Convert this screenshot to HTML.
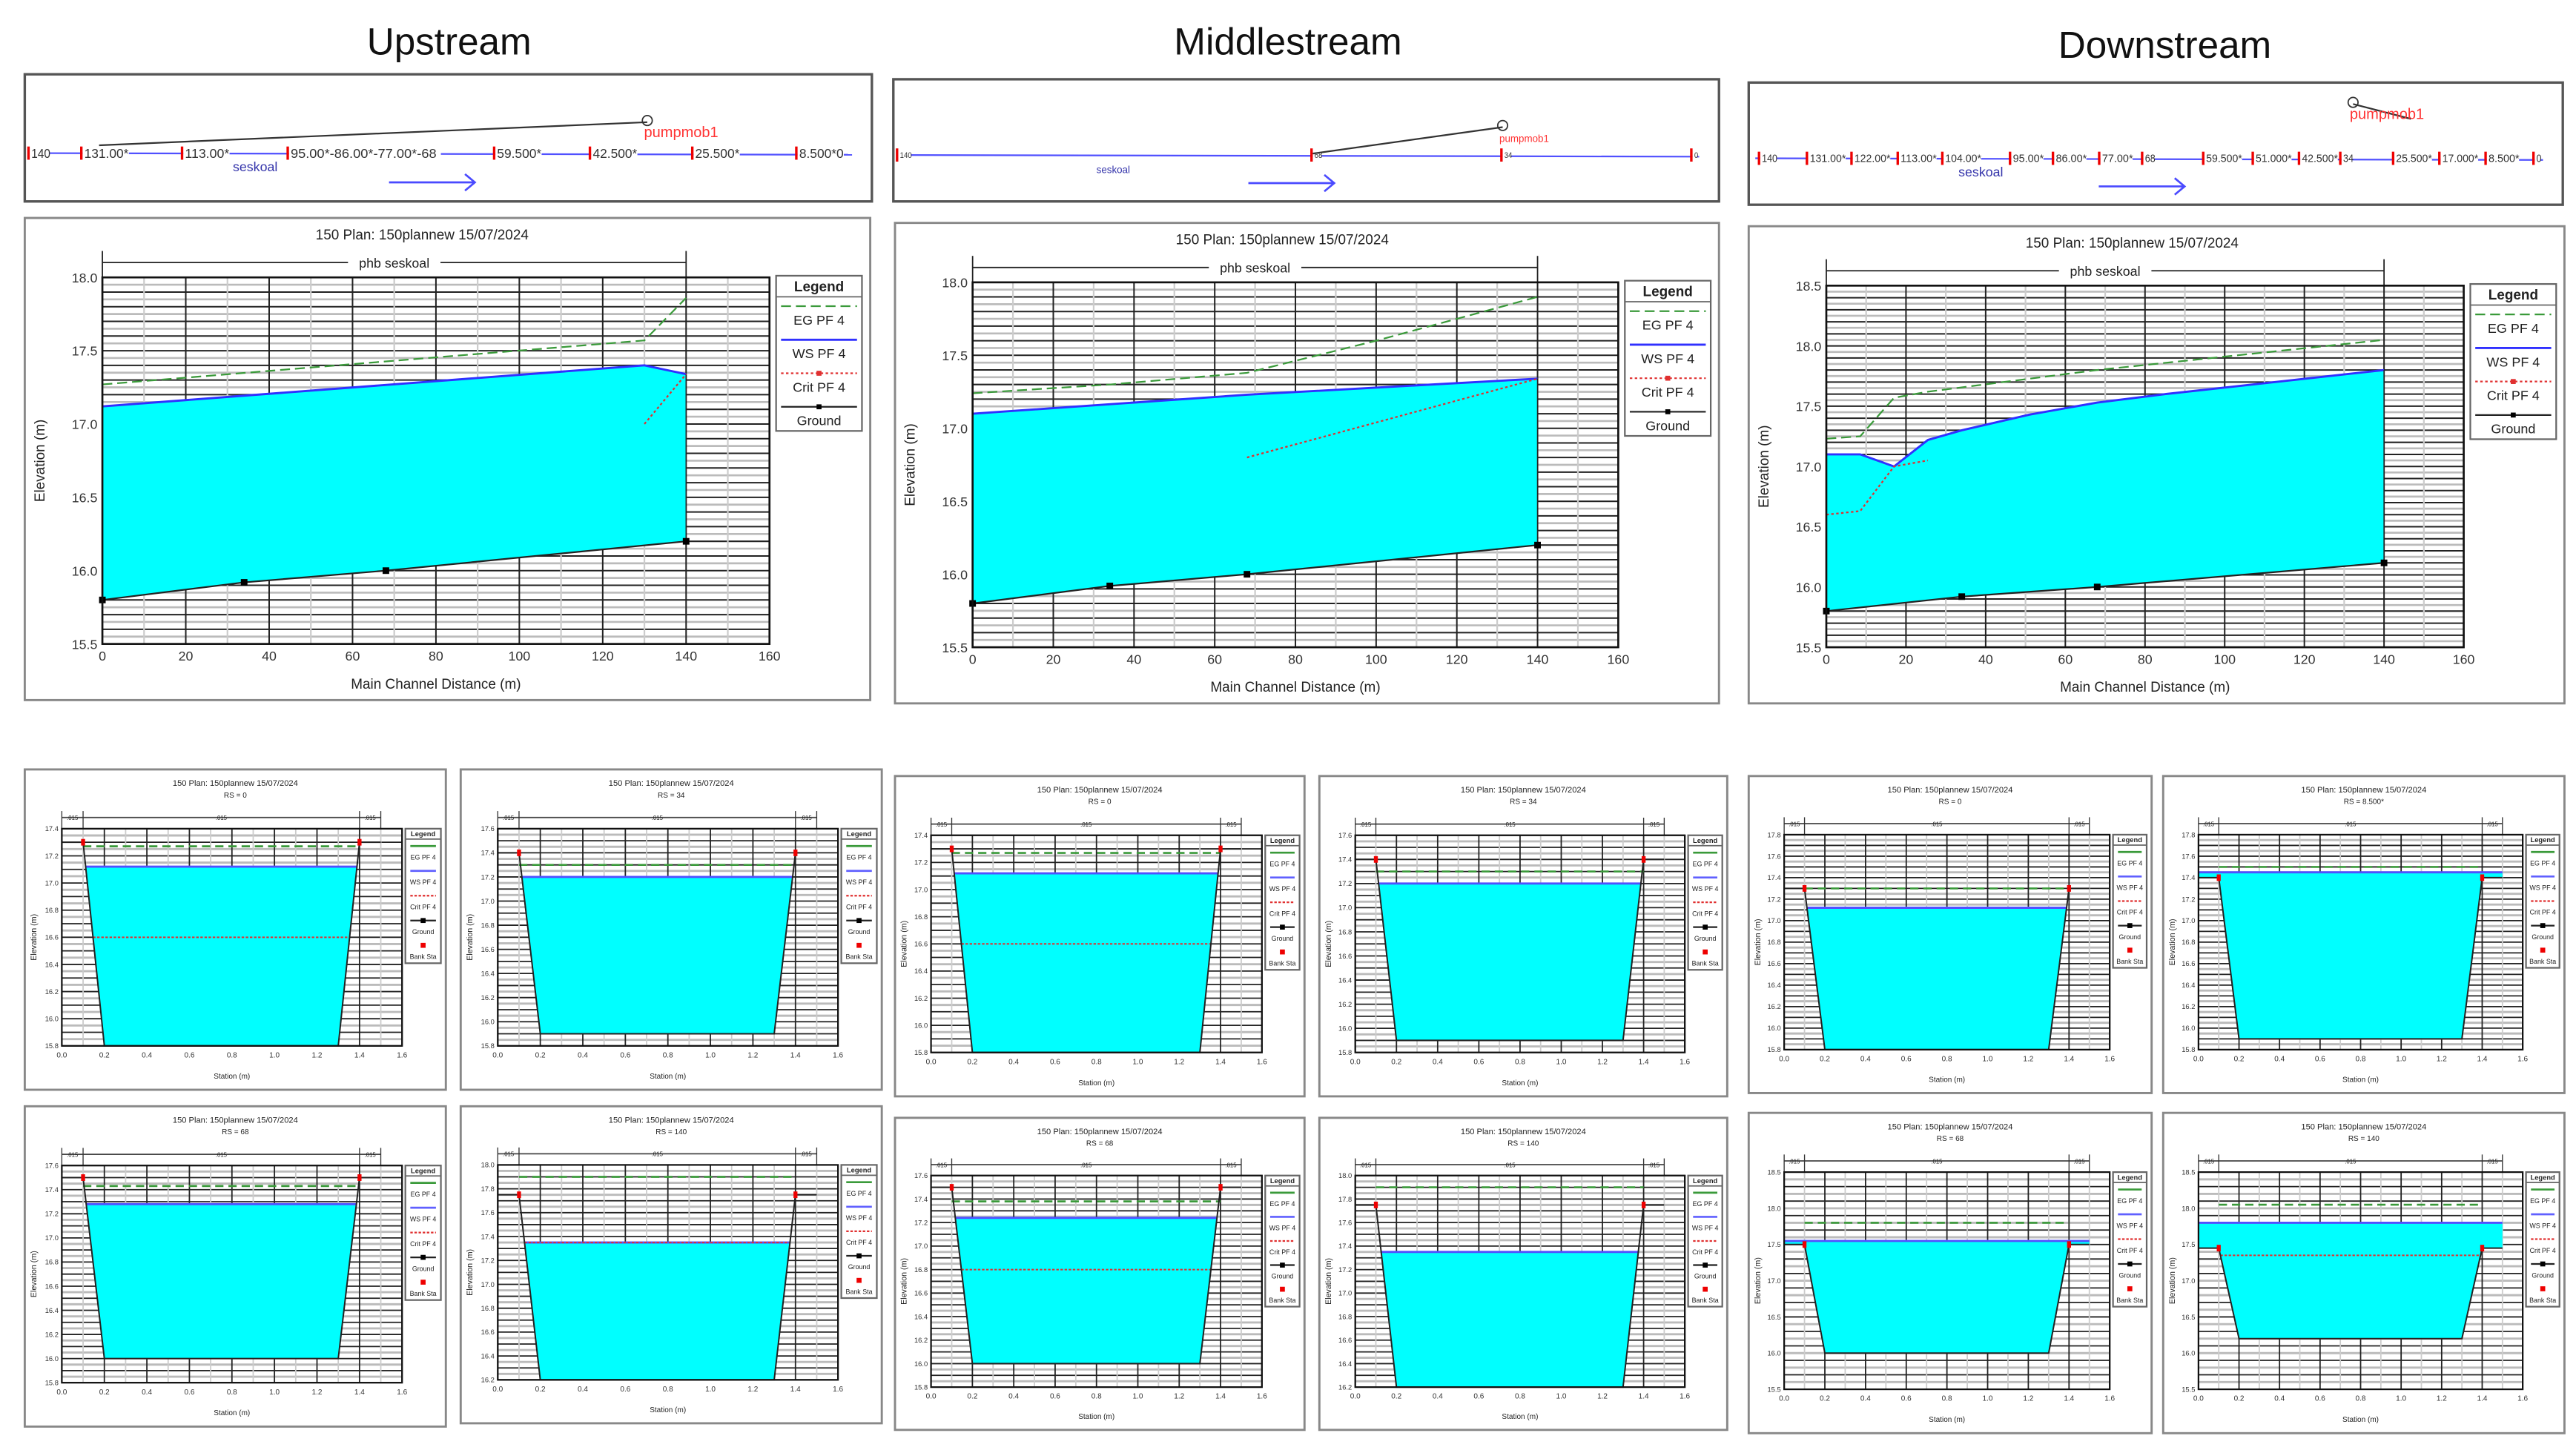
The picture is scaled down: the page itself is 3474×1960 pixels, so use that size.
<!DOCTYPE html>
<html><head><meta charset="utf-8">
<style>
html,body{margin:0;padding:0;background:#fff;width:3474px;height:1960px;overflow:hidden}
svg{display:block}
text{font-family:"Liberation Sans",sans-serif}
</style></head>
<body>
<svg id="root" xmlns="http://www.w3.org/2000/svg" width="3474" height="1960" viewBox="0 0 1560 880" preserveAspectRatio="none">
<rect x="0" y="0" width="1560" height="880" fill="#fff"/>
</svg>
<script>
// ---------- profile data (Main Channel Distance vs Elevation) ----------
const up_ws_x=[0,130,140];            const up_ws_y=[17.12,17.40,17.34];
const up_eg_x=[0,130,140];            const up_eg_y=[17.27,17.57,17.86];
const up_cr_x=[130,140];              const up_cr_y=[17.0,17.34];
const up_gr_x=[0,34,68,140];          const up_gr_y=[15.8,15.92,16.0,16.2];
const mid_ws_x=[0,68,140];            const mid_ws_y=[17.1,17.23,17.34];
const mid_eg_x=[0,34,68,100,140];     const mid_eg_y=[17.24,17.3,17.38,17.6,17.9];
const mid_cr_x=[68,140];              const mid_cr_y=[16.8,17.34];
const mid_gr_x=[0,34,68,140];         const mid_gr_y=[15.8,15.92,16.0,16.2];
const dn_ws_x=[0,8.5,17,25.5,34,51,68,85,140]; const dn_ws_y=[17.1,17.1,17.0,17.22,17.3,17.43,17.53,17.6,17.8];
const dn_eg_x=[0,8.5,17,25.5,68,140]; const dn_eg_y=[17.23,17.25,17.57,17.62,17.8,18.05];
const dn_cr_x=[0,8.5,17,25.5];        const dn_cr_y=[16.6,16.63,17.0,17.05];
const dn_gr_x=[0,34,68,140];          const dn_gr_y=[15.8,15.92,16.0,16.2];
const xTicks=[0,20,40,60,80,100,120,140,160];
const yTicksA=[15.5,16.0,16.5,17.0,17.5,18.0];
const yTicksB=[15.5,16.0,16.5,17.0,17.5,18.0,18.5];
// ---------- cross-section data ----------
const xsRS=["0","34","68","140","0","34","68","140","0","8.500*","68","140"];
const xsYmin=[15.8,15.8,15.8,16.2,15.8,15.8,15.8,16.2,15.8,15.8,15.5,15.5];
const xsYmax=[17.4,17.6,17.6,18.0,17.4,17.6,17.6,18.0,17.8,17.8,18.5,18.5];
const xsBottom=[15.8,15.9,16.0,16.2,15.8,15.9,16.0,16.2,15.8,15.9,16.0,16.2];
const xsBank=[17.3,17.4,17.5,17.75,17.3,17.4,17.5,17.75,17.3,17.4,17.5,17.45];
const xsWS=[17.12,17.2,17.28,17.35,17.12,17.2,17.24,17.35,17.12,17.45,17.55,17.8];
const xsEG=[17.27,17.3,17.43,17.9,17.27,17.3,17.38,17.9,17.3,17.5,17.8,18.05];
const xsCrit=[16.6,null,null,17.35,16.6,null,16.8,null,null,null,null,17.35];
const xsTicks=[0,0.2,0.4,0.6,0.8,1.0,1.2,1.4,1.6];

const NS="http://www.w3.org/2000/svg";
const root=document.getElementById('root');
function el(tag,a,p){const e=document.createElementNS(NS,tag);for(const k in a)e.setAttribute(k,a[k]);(p||root).appendChild(e);return e;}
function tx(s,x,y,fs,a,p,extra){const e=el('text',Object.assign({x:x,y:y,'font-size':fs,fill:'#222','text-anchor':a||'middle'},extra||{}),p);e.textContent=s;return e;}

const titles=[["Upstream",272,33],["Middlestream",780,33],["Downstream",1311,35]];
titles.forEach(t=>{const e=tx(t[0],t[1],t[2],23,'middle',root,{fill:'#111'});

});

const schem=[
 {b:[15,45,513,77],labels:[[18,"140"],[50,"131.00*"],[111,"113.00*"],[175,"95.00*-86.00*-77.00*-68"],[300,"59.500*"],[358,"42.500*"],[420,"25.500*"],[483,"8.500*0"]],pump:[[60,88],[392,74]],fs:8},
 {b:[541,48,500,74],labels:[[544,"140"],[795,"68"],[910,"34"],[1025,"0"]],pump:[[795,93],[910,77]],fs:5},
 {b:[1059,50,493,74],labels:[[1066,"140"],[1095,"131.00*"],[1122,"122.00*"],[1150,"113.00*"],[1177,"104.00*"],[1218,"95.00*"],[1244,"86.00*"],[1272,"77.00*"],[1298,"68"],[1335,"59.500*"],[1365,"51.000*"],[1393,"42.500*"],[1418,"34"],[1450,"25.500*"],[1478,"17.000*"],[1506,"8.500*"],[1535,"0"]],pump:[[1460,72],[1425,63]],fs:6.5}
];
schem.forEach((s,i)=>{
 const g=el('g',{});
 
 
 const [x,y,w,h]=s.b;
 el('rect',{x:x,y:y,width:w,height:h,fill:'#fff',stroke:'#555','stroke-width':1.5},g);
 const ry=y+h*0.62;
 el('line',{x1:x+4,y1:ry,x2:x+w-12,y2:ry+1,stroke:'#5050ff','stroke-width':1},g);
 s.labels.forEach(l=>{
  el('rect',{x:l[0],y:ry-s.fs*0.75,width:l[1].length*s.fs*0.5,height:s.fs*1.1,fill:'#fff'},g);
  el('rect',{x:l[0]-1.5,y:ry-4,width:1.5,height:8,fill:'#e00'},g);
  tx(l[1],l[0]+1,ry+s.fs*0.35,s.fs,'start',g,{fill:'#333','textLength':l[1].length*s.fs*0.48,'lengthAdjust':'spacingAndGlyphs'});
 });
 el('line',{x1:s.pump[0][0],y1:s.pump[0][1],x2:s.pump[1][0],y2:s.pump[1][1],stroke:'#333','stroke-width':1},g);
 el('circle',{cx:s.pump[1][0],cy:s.pump[1][1]-1,r:3,fill:'none',stroke:'#333','stroke-width':0.8},g);
 tx("pumpmob1",s.pump[1][0]-2,s.pump[1][1]+9,i==1?6:9,'start',g,{fill:'#f33'});
 tx("seskoal",x+(i==1?123:i==0?126:127),ry+11,i==1?6:8,'start',g,{fill:'#33a'});
 const ax=x+w*0.43;
 el('path',{d:`M${ax} ${y+h*0.85} h52 M${ax+46} ${y+h*0.85-5} l6 5 l-6 5`,stroke:'#4a4aff','stroke-width':1.2,fill:'none'},g);
});

function legend(g,x,y,w,h,items,fs){
 el('rect',{x:x,y:y,width:w,height:h,fill:'#fff',stroke:'#666','stroke-width':1},g);
 tx("Legend",x+w/2,y+fs*1.1,fs,'middle',g,{'font-weight':'bold'});
 el('line',{x1:x,y1:y+fs*1.5,x2:x+w,y2:y+fs*1.5,stroke:'#666','stroke-width':0.8},g);
 const step=(h-fs*1.5)/items.length;
 items.forEach((it,k)=>{
  const yy=y+fs*1.5+step*k+step*0.28;
  el('line',Object.assign({x1:x+3,y1:yy,x2:x+w-3,y2:yy},it[1]),g);
  if(it[2])el('rect',{x:x+w/2-1.5,y:yy-1.5,width:3,height:3,fill:it[2]},g);
  tx(it[0],x+w/2,yy+step*0.55,fs*0.95,'middle',g);
 });
}

function poly(g,xs,ys,X,Y,attrs){
 const pts=xs.map((v,k)=>X(v)+','+Y(ys[k])).join(' ');
 return el('polyline',Object.assign({points:pts,fill:'none'},attrs),g);
}

const profs=[
 {b:[15,132,512,292],ws:[up_ws_x,up_ws_y],eg:[up_eg_x,up_eg_y],cr:[up_cr_x,up_cr_y],gr:[up_gr_x,up_gr_y],yt:yTicksA},
 {b:[542,135,499,291],ws:[mid_ws_x,mid_ws_y],eg:[mid_eg_x,mid_eg_y],cr:[mid_cr_x,mid_cr_y],gr:[mid_gr_x,mid_gr_y],yt:yTicksA},
 {b:[1059,137,494,289],ws:[dn_ws_x,dn_ws_y],eg:[dn_eg_x,dn_eg_y],cr:[dn_cr_x,dn_cr_y],gr:[dn_gr_x,dn_gr_y],yt:yTicksB}
];
profs.forEach(p=>{
 const g=el('g',{});
 
 
 const [bx,by,bw,bh]=p.b;
 el('rect',{x:bx,y:by,width:bw,height:bh,fill:'#fff',stroke:'#888','stroke-width':1.3},g);
 const L=bx+47,R=bx+bw-61,T=by+36,B=by+bh-34;
 const y0=p.yt[0],y1=p.yt[p.yt.length-1];
 const X=v=>L+(v/160)*(R-L), Y=v=>B-(v-y0)/(y1-y0)*(B-T);
 tx("150      Plan: 150plannew     15/07/2024",bx+bw*0.47,by+13,8.5,'middle',g);
 el('line',{x1:X(0),y1:by+27,x2:X(140),y2:by+27,stroke:'#222','stroke-width':0.8},g);
 el('line',{x1:X(0),y1:by+20,x2:X(0),y2:T,stroke:'#222','stroke-width':0.8},g);
 el('line',{x1:X(140),y1:by+20,x2:X(140),y2:T,stroke:'#222','stroke-width':0.8},g);
 el('rect',{x:(X(0)+X(140))/2-28,y:by+22,width:56,height:9,fill:'#fff'},g);
 tx("phb seskoal",(X(0)+X(140))/2,by+30,8,'middle',g);
 for(let v=y0;v<=y1+1e-6;v+=0.05){const k=Math.round((v-y0)/0.05);
  el('line',{x1:L,y1:Y(v),x2:R,y2:Y(v),stroke:k%2?'#bbb':'#222','stroke-width':k%2?1.2:0.9},g);}
 for(let v=0;v<=160;v+=10){el('line',{x1:X(v),y1:T,x2:X(v),y2:B,stroke:v%20?'#ccc':'#222','stroke-width':v%20?1:0.9},g);}
 const wx=p.ws[0],wy=p.ws[1],gx=p.gr[0],gy=p.gr[1];
 let pts=wx.map((v,k)=>X(v)+','+Y(wy[k]));
 for(let k=gx.length-1;k>=0;k--)pts.push(X(gx[k])+','+Y(gy[k]));
 const wf=el('polygon',{points:pts.join(' '),fill:'#00ffff',stroke:'none'},g);
 
 
 const ws=poly(g,wx,wy,X,Y,{stroke:'#3030ff','stroke-width':1.3});
 
 
 el('line',{x1:X(140),y1:Y(wy[wy.length-1]),x2:X(140),y2:Y(gy[gy.length-1]),stroke:'#222','stroke-width':0.7},g);
 const eg=poly(g,p.eg[0],p.eg[1],X,Y,{stroke:'#3a9a3a','stroke-width':1,'stroke-dasharray':'6 3'});
 
 
 const cr=poly(g,p.cr[0],p.cr[1],X,Y,{stroke:'#e03030','stroke-width':1,'stroke-dasharray':'1.5 1.5'});
 
 
 const gl=poly(g,gx,gy,X,Y,{stroke:'#222','stroke-width':1});
 
 
 gx.forEach((v,k)=>el('rect',{x:X(v)-2,y:Y(gy[k])-2,width:4,height:4,fill:'#000'},g));
 el('rect',{x:L,y:T,width:R-L,height:B-T,fill:'none',stroke:'#111','stroke-width':1.2},g);
 xTicks.forEach(v=>tx(String(v),X(v),B+10,8,'middle',g,{fill:'#333'}));
 p.yt.forEach(v=>tx(v.toFixed(1),L-3,Y(v)+3,8,'end',g,{fill:'#333'}));
 tx("Main Channel Distance (m)",(L+R)/2,B+27,8.5,'middle',g);
 tx("Elevation (m)",0,0,8.5,'middle',g,{transform:`translate(${bx+12},${(T+B)/2}) rotate(-90)`});
 legend(g,R+4,T-1,bw-(R-bx)-9,94,[["EG  PF 4",{stroke:'#3a9a3a','stroke-dasharray':'6 3'}],["WS  PF 4",{stroke:'#3030ff','stroke-width':1.3}],["Crit  PF 4",{stroke:'#e03030','stroke-dasharray':'1.5 1.5'},'#e03030'],["Ground",{stroke:'#222'},'#000']],8.5);
});

const xsBoxes=[[15,466,255,194],[279,466,255,194],[15,670,255,194],[279,670,255,192],
 [542,470,248,194],[799,470,247,194],[542,677,248,189],[799,677,247,189],
 [1059,470,244,192],[1310,470,243,192],[1059,674,244,194],[1310,674,243,194]];
xsBoxes.forEach((b,i)=>{
 const g=el('g',{});
 
 
 const [bx,by,bw,bh]=b;
 el('rect',{x:bx,y:by,width:bw,height:bh,fill:'#fff',stroke:'#888','stroke-width':1.3},g);
 const L=bx+bw*0.088,R=bx+bw*0.896,T=by+bh*0.185,B=by+bh*0.863;
 const y0=xsYmin[i],y1=xsYmax[i];
 const X=v=>L+(v/1.6)*(R-L), Y=v=>B-(v-y0)/(y1-y0)*(B-T);
 tx("150    Plan: 150plannew   15/07/2024",bx+bw*0.5,by+10,5,'middle',g);
 tx("RS = "+xsRS[i],bx+bw*0.5,by+17,4.5,'middle',g);
 el('line',{x1:X(0),y1:by+bh*0.15,x2:X(1.5),y2:by+bh*0.15,stroke:'#444','stroke-width':0.8},g);
 tx(".015",X(0.05),by+bh*0.15+1.5,3.5,'middle',g);tx(".015",(X(0.1)+X(1.4))/2,by+bh*0.15+1.5,3.5,'middle',g);tx(".015",X(1.45),by+bh*0.15+1.5,3.5,'middle',g);
 [0,0.1,1.4,1.5].forEach(v=>el('line',{x1:X(v),y1:by+bh*0.13,x2:X(v),y2:T,stroke:'#333','stroke-width':0.6},g));
 const st=(y1-y0)>2?0.1:0.05;
 for(let k=0;k<=Math.round((y1-y0)/st);k++){const v=y0+k*st;
  el('line',{x1:L,y1:Y(v),x2:R,y2:Y(v),stroke:k%2?'#bbb':'#222','stroke-width':k%2?1.3:0.8},g);}
 for(let v=0;v<=16;v++){el('line',{x1:X(v/10),y1:T,x2:X(v/10),y2:B,stroke:v%2?'#ccc':'#222','stroke-width':0.8},g);}
 const bot=xsBottom[i],bk=xsBank[i],ws=xsWS[i];
 const fr=(ws-bot)/(bk-bot);
 const xl=ws>=bk?0:0.2-0.1*fr, xr=ws>=bk?1.5:1.3+0.1*fr;
 const wpts=ws>=bk?[[0,ws],[1.5,ws],[1.5,bk],[1.4,bk],[1.3,bot],[0.2,bot],[0.1,bk],[0,bk]]:[[xl,ws],[xr,ws],[1.3,bot],[0.2,bot]];
 const wf=el('polygon',{points:wpts.map(q=>X(q[0])+','+Y(q[1])).join(' '),fill:'#00ffff'},g);
 
 
 const wl=el('line',{x1:X(xl),y1:Y(ws),x2:X(xr),y2:Y(ws),stroke:'#5050ff','stroke-width':1.3},g);
 
 
 const el2=el('line',{x1:X(0.1),y1:Y(xsEG[i]),x2:X(1.4),y2:Y(xsEG[i]),stroke:'#3a9a3a','stroke-width':1.2,'stroke-dasharray':'5 3'},g);
 
 
 if(xsCrit[i]!==null){
  const cf=(xsCrit[i]-bot)/(bk-bot);
  const cl=el('line',{x1:X(0.2-0.1*cf),y1:Y(xsCrit[i]),x2:X(1.3+0.1*cf),y2:Y(xsCrit[i]),stroke:'#e03030','stroke-width':0.9,'stroke-dasharray':'1.5 1'},g);
  
  
 }
 const gp=[[0,bk],[0.1,bk],[0.2,bot],[1.3,bot],[1.4,bk],[1.5,bk]];
 const gl=el('polyline',{points:gp.map(q=>X(q[0])+','+Y(q[1])).join(' '),fill:'none',stroke:'#222','stroke-width':0.9},g);
 
 
 [0.1,1.4].forEach(v=>el('rect',{x:X(v)-1.2,y:Y(bk)-2,width:2.4,height:4,fill:'#e00'},g));
 el('rect',{x:L,y:T,width:R-L,height:B-T,fill:'none',stroke:'#111','stroke-width':1},g);
 xsTicks.forEach(v=>tx(v.toFixed(1),X(v),B+7,4.5,'middle',g,{fill:'#333'}));
 const yst=(y1-y0)>2?0.5:0.2;
 for(let v=y0;v<=y1+1e-6;v+=yst)tx(v.toFixed(1),L-2,Y(v)+1.5,4.2,'end',g,{fill:'#333'});
 tx("Station (m)",(L+R)/2,by+bh*0.965,4.5,'middle',g);
 tx("Elevation (m)",0,0,4.8,'middle',g,{transform:`translate(${bx+7},${(T+B)/2}) rotate(-90)`});
 legend(g,R+2,T,bx+bw-R-5,bh*0.42,[["EG PF 4",{stroke:'#3a9a3a','stroke-width':1.2}],["WS PF 4",{stroke:'#6060ff','stroke-width':1.2}],["Crit PF 4",{stroke:'#e03030','stroke-dasharray':'1.5 1'}],["Ground",{stroke:'#222'},'#000'],["Bank Sta",{stroke:'none'},'#e00']],4.2);
});
</script>
</body></html>
